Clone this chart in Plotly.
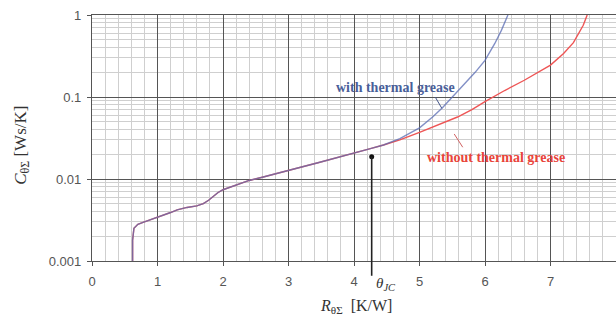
import math
import plotly.graph_objects as go

# Shared part of both curves
x_common = [0.62, 0.62, 0.64, 0.70, 0.80, 0.90, 1.00, 1.10, 1.20, 1.30, 1.45, 1.60, 1.70,
            1.78, 1.85, 1.92, 2.00, 2.20, 2.40, 2.60, 2.80, 3.00, 3.20, 3.45, 3.70, 4.00,
            4.25, 4.45]
y_common = [0.001, 0.0018, 0.0025, 0.0028, 0.0030, 0.0032, 0.0034, 0.0036, 0.0039, 0.0042,
            0.0045, 0.0047, 0.0050, 0.0055, 0.0062, 0.0068, 0.0074, 0.0085, 0.0096, 0.0105,
            0.0115, 0.0126, 0.0140, 0.0158, 0.0178, 0.0208, 0.0235, 0.026]

x_grease = [4.7, 5.0, 5.2, 5.35, 5.5, 5.68, 5.85, 6.0, 6.15, 6.25, 6.35]
y_grease = [0.031, 0.042, 0.057, 0.074, 0.10, 0.14, 0.20, 0.28, 0.45, 0.65, 1.0]

x_nogrease = [4.7, 5.0, 5.3, 5.58, 5.8, 6.0, 6.3, 6.6, 7.0, 7.2, 7.35, 7.5, 7.56]
y_nogrease = [0.030, 0.037, 0.046, 0.057, 0.070, 0.088, 0.12, 0.16, 0.245, 0.34, 0.46, 0.75, 1.0]

theta_jc_x = 4.27
theta_jc_y = 0.0187

x_ticks = [0, 1, 2, 3, 4, 5, 6, 7, 8]
y_ticks = [0.001, 0.01, 0.1, 1]
y_ticktext = ["0.001", "0.01", "0.1", "1"]

fig = go.Figure()
fig.add_trace(go.Scatter(x=x_common + x_nogrease, y=y_common + y_nogrease, mode="lines",
                         line=dict(color="#ee5555", width=1.4), showlegend=False))
fig.add_trace(go.Scatter(x=x_common + x_grease, y=y_common + y_grease, mode="lines",
                         line=dict(color="#5a6cb4", width=1.4), opacity=0.75, showlegend=False))
# theta_JC marker and line
fig.add_trace(go.Scatter(x=[theta_jc_x], y=[theta_jc_y], mode="markers",
                         marker=dict(color="#111", size=5), showlegend=False))
fig.add_shape(type="line", xref="x", yref="y", x0=theta_jc_x, x1=theta_jc_x,
              y0=theta_jc_y, y1=0.001, line=dict(color="#222", width=1.6))
fig.add_shape(type="line", xref="x", yref="paper", x0=theta_jc_x, x1=theta_jc_x,
              y0=0, y1=-0.06, line=dict(color="#222", width=1.6))

serif = "Liberation Serif"
# labels and pointers
fig.add_annotation(x=4.64, y=math.log10(0.132), xref="x", yref="y", text="<b>with thermal grease</b>",
                   showarrow=False, xanchor="center", yanchor="middle",
                   font=dict(family=serif, size=14, color="#4a5f9a"))
fig.add_shape(type="line", xref="x", yref="y", x0=5.24, x1=5.34, y0=0.10, y1=0.073,
              line=dict(color="#445588", width=1))
fig.add_annotation(x=6.17, y=math.log10(0.0185), xref="x", yref="y",
                   text="<b>without thermal grease</b>",
                   showarrow=False, xanchor="center", yanchor="middle",
                   font=dict(family=serif, size=14, color="#e8443a"))
fig.add_shape(type="line", xref="x", yref="y", x0=5.53, x1=5.66, y0=0.0354, y1=0.0244,
              line=dict(color="#d06060", width=1))
fig.add_annotation(x=theta_jc_x, y=-0.093, xref="x", yref="paper",
                   text="<i>θ<sub>JC</sub></i>", showarrow=False, xshift=14,
                   yanchor="middle",
                   font=dict(family=serif, size=15, color="#333"))
fig.add_annotation(x=0.5, y=-0.186, xref="paper", yref="paper", xshift=2,
                   text="<i>R</i><sub>θΣ</sub>  [K/W]", showarrow=False, yanchor="middle",
                   font=dict(family=serif, size=16, color="#333"))
fig.add_annotation(x=-0.134, y=0.5, xref="paper", yref="paper", yshift=-7,
                   text="<i>C</i><sub>θΣ</sub> [Ws/K]", showarrow=False, textangle=-90,
                   xanchor="center", yanchor="middle",
                   font=dict(family=serif, size=17, color="#333"))

fig.update_xaxes(range=[0, 8], tickvals=x_ticks, ticks="outside", ticklen=4,
                 tickcolor="#555", showgrid=True, gridcolor="#555", gridwidth=1.3,
                 showline=True, linecolor="#555", linewidth=1.3, mirror=True,
                 zeroline=False, ticklabelstandoff=4,
                 tickfont=dict(family="Liberation Sans", size=13, color="#555"),
                 minor=dict(dtick=0.2, showgrid=True, gridcolor="#cfcfcf", gridwidth=1))
fig.update_yaxes(type="log", range=[-3, 0], tickvals=y_ticks, ticktext=y_ticktext,
                 ticks="outside", ticklen=4, tickcolor="#555", ticklabelstandoff=3,
                 showgrid=True, gridcolor="#555", gridwidth=1.3,
                 showline=True, linecolor="#555", linewidth=1.3, mirror=True,
                 tickfont=dict(family="Liberation Sans", size=13, color="#555"),
                 minor=dict(dtick="D1", showgrid=True, gridcolor="#cfcfcf", gridwidth=1))

fig.update_layout(width=616, height=324, margin=dict(l=92, r=0, t=15, b=63),
                  plot_bgcolor="white", paper_bgcolor="white")
fig.write_html("out.html")
